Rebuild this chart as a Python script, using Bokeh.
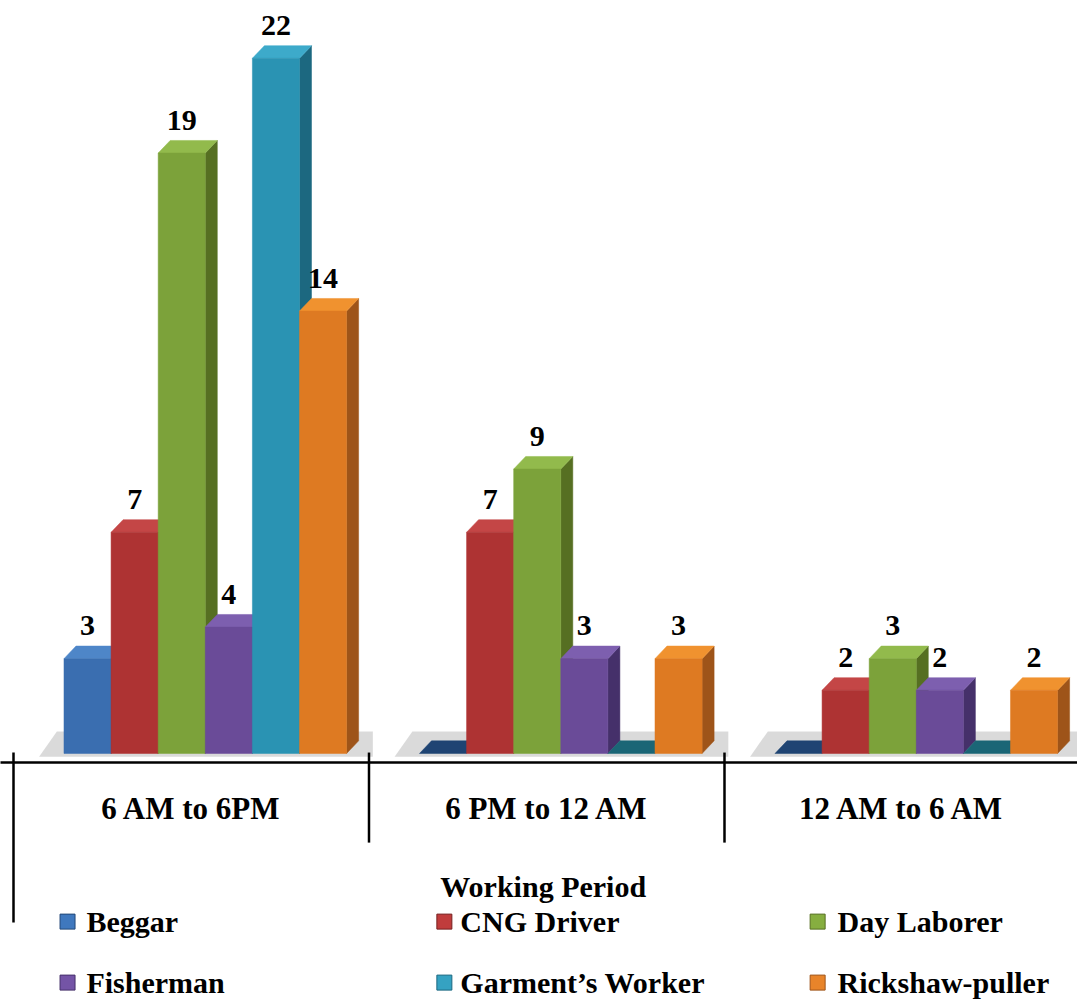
from bokeh.plotting import figure
from bokeh.models import Range1d
from bokeh.core.properties import value
from bokeh.embed import file_html
from bokeh.resources import INLINE

# ---------------- data ----------------
periods = ["6 AM to 6PM", "6 PM to 12 AM", "12 AM to 6 AM"]
occupations = ["Beggar", "CNG Driver", "Day Laborer", "Fisherman", "Garment\u2019s Worker", "Rickshaw-puller"]
beggar = [3, 0, 0]
cng_driver = [7, 7, 2]
day_laborer = [19, 9, 3]
fisherman = [4, 3, 2]
garment_worker = [22, 0, 0]
rickshaw_puller = [14, 3, 2]
series = [beggar, cng_driver, day_laborer, fisherman, garment_worker, rickshaw_puller]
axis_title = "Working Period"

# ---------------- style ----------------
front_colors = ["#3A6EB0", "#AE3333", "#7CA23A", "#6A4B98", "#2A93B3", "#DE7A22"]
side_colors = ["#234878", "#76201F", "#566F22", "#45306A", "#1C6880", "#9E5419"]
top_colors = ["#4E86C8", "#C44646", "#92BA4C", "#7D5FAF", "#3DAACA", "#F0922F"]
zero_colors = ["#1F4473", "#6F1D1D", "#4F6A1E", "#3E2B63", "#1B6676", "#8E4A15"]
legend_colors = ["#3F78BE", "#C03C3C", "#86AE40", "#7454A6", "#35A2C2", "#E8842A"]

FONT = value("Liberation Serif")
BAR_W = 0.1325
OFFSET = 0.142
DX = 0.0338
DY = 0.40

p = figure(width=1077, height=1007,
           x_range=Range1d(-0.03657, 2.9930), y_range=Range1d(-8.038, 23.829),
           output_backend="svg", toolbar_location=None, min_border=0,
           x_axis_location=None, y_axis_location=None)
p.grid.visible = False
p.outline_line_color = None
p.background_fill_color = "white"

n_groups = len(periods)
n_series = len(series)

# floor shadows
sh_xs, sh_ys = [], []
for i in range(n_groups):
    left = i + OFFSET
    right = i + OFFSET + n_series * BAR_W + DX
    sh_xs.append([left - 0.07, right + 0.04, right + 0.04, left - 0.02])
    sh_ys.append([-0.1, -0.1, DY + 0.3, DY + 0.3])
p.patches(xs=sh_xs, ys=sh_ys, fill_color="#d6d6d6", fill_alpha=0.9, line_color=None)

# 3D bars
lab_x, lab_y, lab_t = [], [], []
for j, vals in enumerate(series):
    lefts = [i + OFFSET + j * BAR_W for i in range(n_groups)]
    rights = [l + BAR_W for l in lefts]
    side_xs, side_ys, top_xs, top_ys, top_cols = [], [], [], [], []
    fl, fr, ft = [], [], []
    for l, r, v in zip(lefts, rights, vals):
        top_xs.append([l, l + DX, r + DX, r])
        top_ys.append([v, v + DY, v + DY, v])
        if v > 0:
            side_xs.append([r, r + DX, r + DX, r])
            side_ys.append([0, DY, v + DY, v])
            top_cols.append(top_colors[j])
            fl.append(l); fr.append(r); ft.append(v)
            lab_x.append((l + r) / 2); lab_y.append(v); lab_t.append(str(v))
        else:
            top_cols.append(zero_colors[j])
    if side_xs:
        p.patches(xs=side_xs, ys=side_ys, fill_color=side_colors[j], line_color=side_colors[j], line_width=0.5)
    p.patches(xs=top_xs, ys=top_ys, fill_color=top_cols, line_color=top_cols, line_width=0.5)
    if fl:
        p.quad(left=fl, right=fr, bottom=0, top=ft, fill_color=front_colors[j],
               line_color=front_colors[j], line_width=0.5)

# value labels
p.text(x=lab_x, y=lab_y, text=lab_t, y_offset=-33, text_align="center", text_baseline="middle",
       text_font=FONT, text_font_style="bold", text_font_size="30px", text_color="black")

# category axis
p.segment(x0=[-0.04], y0=[-0.285], x1=[3.0], y1=[-0.285], line_color="black", line_width=2.5)
sep_x = [float(i) for i in range(n_groups)]
sep_bottom = [-5.35] + [-2.82] * (n_groups - 1)
p.segment(x0=sep_x, y0=[0.03] * n_groups, x1=sep_x, y1=sep_bottom, line_color="black", line_width=2.5)
p.text(x=[i + 0.5 for i in range(n_groups)], y=[-1.74] * n_groups, text=periods,
       text_align="center", text_baseline="middle",
       text_font=FONT, text_font_style="bold", text_font_size="31px", text_color="black")
p.text(x=[1.49], y=[-4.22], text=[axis_title], text_align="center", text_baseline="middle",
       text_font=FONT, text_font_style="bold", text_font_size="30px", text_color="black")

# legend
mk_x = [0.152, 1.212, 2.262]
tx_x = [0.205, 1.257, 2.318]
row_y = [-5.32, -7.25]
lm_x, lm_y, lt_x, lt_y = [], [], [], []
for k in range(n_series):
    r, c = divmod(k, 3)
    lm_x.append(mk_x[c]); lm_y.append(row_y[r])
    lt_x.append(tx_x[c]); lt_y.append(row_y[r])
p.scatter(x=lm_x, y=lm_y, marker="square", size=15, fill_color=legend_colors, line_color=side_colors, line_width=1)
p.text(x=lt_x, y=lt_y, text=occupations, text_align="left", text_baseline="middle",
       text_font=FONT, text_font_style="bold", text_font_size="30px", text_color="black")

open("out.html", "w").write(file_html(p, INLINE))
